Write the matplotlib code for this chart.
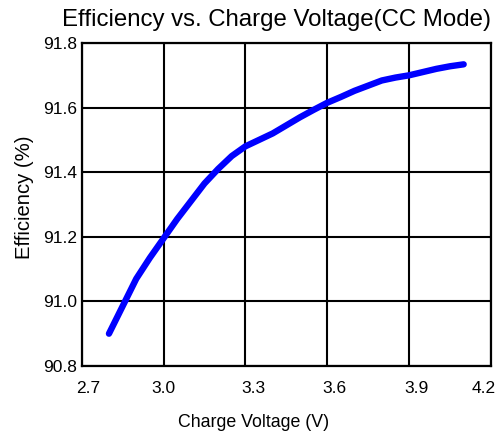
import matplotlib
matplotlib.use("Agg")
import matplotlib.pyplot as plt

plt.rcParams['font.family'] = ['Liberation Sans', 'DejaVu Sans']

# charge voltage (V) and efficiency (%)
voltage = [2.80, 2.85, 2.90, 2.95, 3.00, 3.05, 3.10, 3.15, 3.20, 3.25, 3.30,
           3.35, 3.40, 3.45, 3.50, 3.55, 3.60, 3.65, 3.70, 3.75, 3.80, 3.85,
           3.90, 3.95, 4.00, 4.05, 4.10]
efficiency = [90.90, 90.985, 91.07, 91.135, 91.195, 91.255, 91.31, 91.365,
              91.41, 91.45, 91.48, 91.50, 91.52, 91.545, 91.57, 91.593,
              91.615, 91.633, 91.652, 91.668, 91.684, 91.693, 91.70, 91.71,
              91.72, 91.728, 91.734]

x_ticks = [2.7, 3.0, 3.3, 3.6, 3.9, 4.2]
y_ticks = [90.8, 91.0, 91.2, 91.4, 91.6, 91.8]
x_label_shift = [7, 0, 8, 7, 7, -7]  # pixel nudges of the x tick labels

fig = plt.figure(figsize=(5.02, 4.38), dpi=100)
ax = fig.add_axes([0.1627, 0.1644, 0.8153, 0.7374])

ax.plot(voltage, efficiency, color='#0000ff', linewidth=4.6, solid_capstyle='round',
        solid_joinstyle='round')

ax.set_xlim(2.7, 4.2)
ax.set_ylim(90.8, 91.8)
ax.set_xticks(x_ticks)
ax.set_xticklabels([])
ax.set_yticks(y_ticks)
ax.set_yticklabels(['%.1f' % v for v in y_ticks])
ax.tick_params(axis='x', length=0)
ax.tick_params(axis='y', length=0, pad=3.5, labelsize=12.5)
ax.grid(True, color='black', linewidth=1.5)
ax.set_axisbelow(True)
for s in ax.spines.values():
    s.set_linewidth(1.6)

# x tick labels, drawn by hand so they can sit a little off their gridlines
for v, dx in zip(x_ticks, x_label_shift):
    ax.annotate('%.1f' % v, xy=(v, 0), xycoords=('data', 'axes fraction'),
                xytext=(dx, -23), textcoords='offset pixels',
                ha='center', va='center', fontsize=12.5)

fig.text(0.506, 0.0365, 'Charge Voltage (V)', fontsize=12.8, ha='center', va='center')
fig.text(0.048, 0.549, 'Efficiency (%)', fontsize=14.6, rotation=90,
         ha='center', va='center')
fig.text(0.55, 0.954, 'Efficiency vs. Charge Voltage(CC Mode)', fontsize=17.3,
         ha='center', va='center')

fig.savefig('out.png', dpi=100)
